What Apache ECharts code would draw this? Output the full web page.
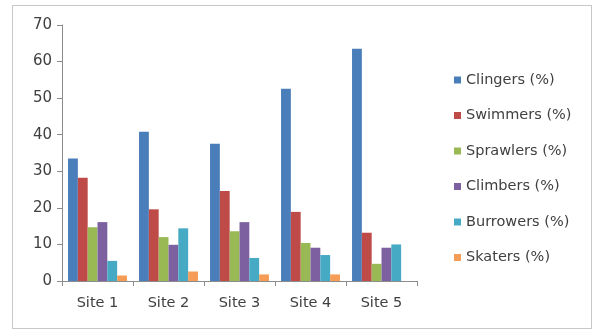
<!DOCTYPE html>
<html>
<head>
<meta charset="utf-8">
<script src="https://cdn.jsdelivr.net/npm/echarts@6/dist/echarts.min.js"></script>
<style>
  html, body { margin: 0; padding: 0; background: #fff; }
  #chart { width: 595px; height: 332px; }
  #frame {
    position: absolute; left: 12px; top: 5px; width: 580px; height: 324px;
    border: 1px solid #c8c8c8; box-sizing: border-box; pointer-events: none;
  }
</style>
</head>
<body>
<div id="chart"></div>
<div id="frame"></div>
<script>
// 分类和数据
const categories = ['Site 1', 'Site 2', 'Site 3', 'Site 4', 'Site 5'];
const seriesNames = ['Clingers (%)', 'Swimmers (%)', 'Sprawlers (%)', 'Climbers (%)', 'Burrowers (%)', 'Skaters (%)'];
const clingers = [33.5, 40.8, 37.5, 52.6, 63.5];
const swimmers = [28.2, 19.6, 24.6, 18.9, 13.2];
const sprawlers = [14.7, 12.0, 13.6, 10.4, 4.7];
const climbers = [16.1, 9.9, 16.1, 9.1, 9.1];
const burrowers = [5.5, 14.4, 6.3, 7.1, 10.0];
const skaters = [1.5, 2.6, 1.8, 1.8, 0];
const colors = ['#4a7ebb', '#be4b48', '#98b954', '#7d60a0', '#46aac5', '#f59d56'];

const seriesData = [clingers, swimmers, sprawlers, climbers, burrowers, skaters];

let chart = echarts.init(document.getElementById('chart'));
let font = '"DejaVu Sans", sans-serif';

let option = {
  animation: false,
  textStyle: { fontFamily: font },
  legend: {
    orient: 'vertical',
    left: 449,
    top: 67,
    itemWidth: 7,
    itemHeight: 7,
    itemGap: 19.5,
    icon: 'rect',
    textStyle: { color: '#404040', fontSize: 14.5, lineHeight: 16, fontFamily: font },
    data: seriesNames
  },
  grid: {
    left: 62,
    right: 178,
    top: 25,
    bottom: 51
  },
  xAxis: [{
    type: 'category',
    data: categories,
    axisLine: { show: true, lineStyle: { color: '#8c8c8c', width: 1 } },
    axisTick: { show: true, length: 5, lineStyle: { color: '#8c8c8c' } },
    axisLabel: { color: '#404040', fontSize: 14.5, margin: 15, fontFamily: font }
  }],
  yAxis: [{
    type: 'value',
    min: 0,
    max: 70,
    interval: 10,
    axisLine: { show: true, lineStyle: { color: '#8c8c8c', width: 1 } },
    axisTick: { show: true, length: 5, lineStyle: { color: '#8c8c8c' } },
    axisLabel: { color: '#404040', fontSize: 15, margin: 10, fontFamily: font },
    splitLine: { show: false }
  }],
  series: []
};

seriesData.forEach((data, i) => {
  option.series.push({
    name: seriesNames[i],
    type: 'bar',
    data: data,
    barGap: 0,
    barCategoryGap: '17%',
    itemStyle: { color: colors[i] }
  });
});

chart.setOption(option);
</script>
</body>
</html>
